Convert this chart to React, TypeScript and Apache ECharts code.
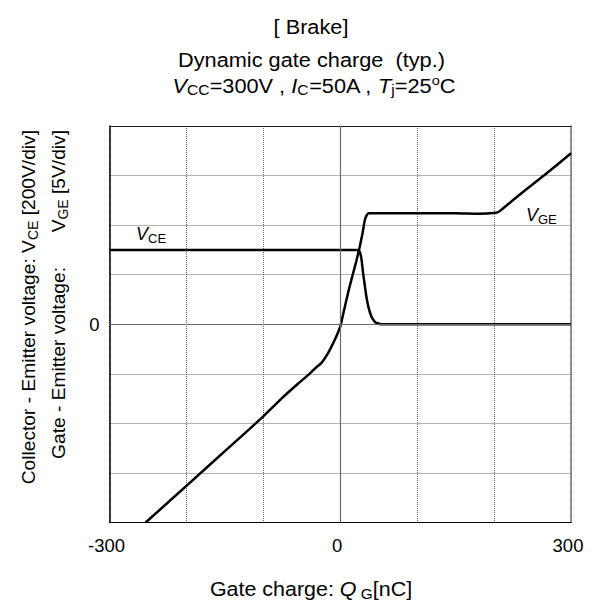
import React, { useEffect, useRef } from "react";
import * as echarts from "echarts";

// Gate charge Q_G [nC] and V_GE [V]
const qgVGE = [-253, -200, -150, -100, -76.5, -55, -40, -32, -24.4, -18, -11.4, -5, 0, 4, 8, 12, 16.7, 21, 25.3, 29, 31.9, 34.5, 37, 60, 100, 150, 180, 203, 206, 209.5, 240, 268, 300];
const vGE = [-20, -16.3, -12.8, -9.3, -7.5, -6.0, -5.0, -4.4, -3.9, -3.2, -2.26, -1.2, -0.24, 1.1, 2.45, 3.75, 5.14, 6.4, 7.8, 9.2, 10.5, 11.0, 11.2, 11.2, 11.2, 11.2, 11.15, 11.25, 11.35, 11.55, 13.5, 15.2, 17.25];
// Gate charge Q_G [nC] and V_CE [V]
const qgVCE = [-300, 22, 25, 27.5, 29.7, 32, 34, 37, 40.5, 44, 47, 53.5, 300];
const vCE = [300, 300, 294, 265, 206, 155, 111, 65, 31, 13, 5, 0, 0];

const xTickLabels = [-300, 0, 300];
const yTickLabels = [0];

const titleLines = ["[ Brake]", "Dynamic gate charge  (typ.)"];

export default function App() {
  const ref = useRef<HTMLDivElement>(null);
  useEffect(() => {
    const chart = echarts.init(ref.current!, null, { renderer: "svg" });
    const font = "'Liberation Sans', Arial, Helvetica, sans-serif";
    const makeRich = (s: number): any => ({
      n: { font: `${s}px ${font}`, lineHeight: s + 4, verticalAlign: "middle", fill: "#000" },
      i: { font: `italic ${s}px ${font}`, lineHeight: s + 4, verticalAlign: "middle", fill: "#000" },
      sub: { font: `${Math.round(s * 0.72)}px ${font}`, lineHeight: Math.round(s * 0.72), verticalAlign: "bottom", fill: "#000" },
      sup: { font: `${Math.round(s * 0.66)}px ${font}`, lineHeight: Math.round(s * 0.72), verticalAlign: "top", fill: "#000" },
    });
    const txt = (x: number, y: number, text: string, align: string, size: number, rotation = 0, scaleX = 1) => ({
      type: "text",
      x,
      y,
      rotation,
      scaleX,
      silent: true,
      style: { text, rich: makeRich(size), align, verticalAlign: "middle", fill: "#000", font: `${size}px ${font}` },
    });
    const gridLine = { show: true, lineStyle: { color: "#666", type: [1, 1], width: 1 } };

    const option: any = {
      animation: false,
      backgroundColor: "#fff",
      grid: { left: 109.5, right: 26, top: 126, bottom: 85.5, containLabel: false },
      xAxis: [
        {
          type: "value",
          min: -300,
          max: 300,
          interval: 100,
          position: "bottom",
          axisLine: { show: true, onZero: false, lineStyle: { color: "#000", width: 1.2 } },
          axisTick: { show: false },
          axisLabel: {
            color: "#000",
            fontSize: 18.5,
            fontFamily: font,
            margin: 13,
            padding: [0, 6, 0, 0],
            formatter: (v: number) => (xTickLabels.includes(v) ? String(v) : ""),
          },
          splitLine: gridLine,
        },
        {
          type: "value",
          min: -300,
          max: 300,
          interval: 100,
          position: "top",
          axisLine: { show: true, onZero: false, lineStyle: { color: "#222", width: 1.2 } },
          axisTick: { show: false },
          axisLabel: { show: false },
          splitLine: { show: false },
        },
      ],
      yAxis: [
        {
          type: "value",
          min: -20,
          max: 20,
          interval: 5,
          position: "left",
          axisLine: { show: true, onZero: false, lineStyle: { color: "#000", width: 1.5 } },
          axisTick: { show: false },
          axisLabel: {
            color: "#000",
            fontSize: 18.5,
            fontFamily: font,
            margin: 10,
            formatter: (v: number) => (yTickLabels.includes(v) ? String(v) : ""),
          },
          splitLine: gridLine,
        },
        {
          type: "value",
          min: -800,
          max: 800,
          interval: 200,
          position: "right",
          axisLine: { show: true, onZero: false, lineStyle: { color: "#777", width: 1.5 } },
          axisTick: { show: false },
          axisLabel: { show: false },
          splitLine: { show: false },
        },
      ],
      series: [
        {
          type: "line",
          name: "zero",
          data: [],
          z: 1,
          silent: true,
          markLine: {
            silent: true,
            symbol: ["none", "none"],
            label: { show: false },
            lineStyle: { color: "#6a6a6a", type: "solid", width: 1.2 },
            data: [{ xAxis: 0 }, { yAxis: 0 }],
          },
        },
        {
          type: "line",
          name: "VGE",
          xAxisIndex: 0,
          yAxisIndex: 0,
          showSymbol: false,
          smooth: 0.15,
          z: 3,
          lineStyle: { color: "#000", width: 2.5 },
          data: qgVGE.map((q, k) => [q, vGE[k]]),
        },
        {
          type: "line",
          name: "VCE",
          xAxisIndex: 0,
          yAxisIndex: 1,
          showSymbol: false,
          smooth: 0.15,
          z: 3,
          lineStyle: { color: "#000", width: 2.5 },
          data: qgVCE.map((q, k) => [q, vCE[k]]),
        },
      ],
      graphic: [
        txt(311, 27, `{n|${titleLines[0]}}`, "center", 19.5, 0, 1.115),
        txt(311.5, 60, `{n|${titleLines[1]}}`, "center", 19.5, 0, 1.115),
        txt(314, 86, "{i|V}{sub|CC}{n|=300V , }{i|I}{sub|C}{n|=50A , }{i|T}{sub|j}{n|=25}{sup|o}{n|C}", "center", 19.5, 0, 1.115),
        txt(311, 589, "{n|Gate charge: }{i|Q}{sub| G}{n|[nC]}", "center", 19.5, 0, 1.1),
        txt(28, 130, "{n|Collector - Emitter voltage: V}{sub|CE}{n| [200V/div]}", "right", 19.2, Math.PI / 2),
        txt(58, 267, "{n|Gate - Emitter voltage:}", "right", 19.2, Math.PI / 2),
        txt(58, 130, "{n|V}{sub|GE}{n| [5V/div]}", "right", 19.2, Math.PI / 2),
        txt(136, 234, "{i|V}{sub|CE}", "left", 18),
        txt(526, 215, "{i|V}{sub|GE}", "left", 18),
      ],
    };
    chart.setOption(option);
    return () => chart.dispose();
  }, []);
  return (
    <div
      ref={ref}
      style={{ position: "fixed", left: 0, top: 0, width: 597, height: 608, background: "#fff" }}
    />
  );
}
